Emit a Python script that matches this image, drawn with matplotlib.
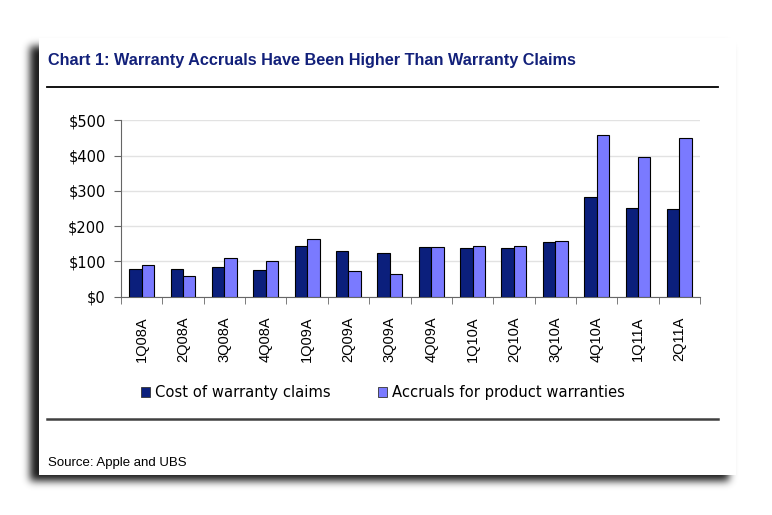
import numpy as np
import matplotlib
matplotlib.use("Agg")
import matplotlib.pyplot as plt
from matplotlib.patches import Rectangle

# quarterly values, $ millions
quarters = ["1Q08A", "2Q08A", "3Q08A", "4Q08A", "1Q09A", "2Q09A", "3Q09A",
            "4Q09A", "1Q10A", "2Q10A", "3Q10A", "4Q10A", "1Q11A", "2Q11A"]
claims = [79, 79, 83, 77, 143, 129, 125, 140, 137, 137, 155, 284, 252, 250]
accruals = [89, 60, 109, 100, 164, 73, 64, 140, 143, 143, 158, 457, 397, 449]
yticks = [0, 100, 200, 300, 400, 500]

W, H = 772, 515
fig = plt.figure(figsize=(W / 100, H / 100), dpi=100)
fig.patch.set_facecolor("white")

# soft drop shadow behind the card
shadow = np.zeros((H, W))
shadow[46:481, 30:729] = 1.0
k = np.exp(-0.5 * (np.arange(-12, 13) / 4.0) ** 2)
k /= k.sum()
shadow = np.apply_along_axis(lambda r: np.convolve(r, k, mode="same"), 1, shadow)
shadow = np.apply_along_axis(lambda c: np.convolve(c, k, mode="same"), 0, shadow)
rgba = np.zeros((H, W, 4))
rgba[..., 3] = shadow * 0.9
bg = fig.add_axes([0, 0, 1, 1])
bg.set_xlim(0, W)
bg.set_ylim(H, 0)
bg.axis("off")
bg.imshow(rgba, extent=(0, W, H, 0), zorder=0)
bg.add_patch(Rectangle((39, 38), 697, 437, facecolor="white", edgecolor="none", zorder=1))

# title, rules and source
navy = "#12207a"
bg.text(48, 61, "Chart 1: Warranty Accruals Have Been Higher Than Warranty Claims",
        fontsize=11.7, fontweight="bold", color=navy, va="center", ha="left",
        family="Liberation Sans", zorder=2)
bg.plot([47, 718], [87, 87], color="black", lw=1.3, zorder=2)
bg.plot([47, 718], [419, 419], color="#404040", lw=1.8, zorder=2)
bg.text(48, 463, "Source: Apple and UBS", fontsize=9.5, color="black", va="center",
        ha="left", family="Liberation Sans", zorder=2)

# legend
dark = "#0b1f7c"
light = "#7a7aff"
for x0, col, lab in [(141, dark, "Cost of warranty claims"),
                     (378, light, "Accruals for product warranties")]:
    bg.add_patch(Rectangle((x0, 387), 9, 10, facecolor=col, edgecolor="#333333",
                           lw=0.6, zorder=2))
    bg.text(x0 + 14, 392, lab, fontsize=10.6, va="center", ha="left",
            family="DejaVu Sans", zorder=2)

# bar chart
ax = fig.add_axes([121 / W, 1 - 296.7 / H, (700 - 121) / W, (296.7 - 120.3) / H])
ax.set_facecolor("none")
x = np.arange(len(quarters))
w = 0.3
ax.bar(x - w / 2, claims, w, color=dark, edgecolor="black", lw=0.8, zorder=3)
ax.bar(x + w / 2, accruals, w, color=light, edgecolor="black", lw=0.8, zorder=3)

ax.set_xlim(-0.5, len(quarters) - 0.5)
ax.set_ylim(0, 500)
ax.set_yticks(yticks)
ax.set_yticklabels(["$%d" % v for v in yticks], fontsize=10.5, family="DejaVu Sans")
ax.yaxis.grid(True, color="#e2e2e2", lw=1)
ax.set_axisbelow(True)

ax.set_xticks(x)
ax.set_xticklabels(quarters, rotation=90, fontsize=10.5, family="Liberation Sans")
ax.set_xticks(np.arange(-0.5, len(quarters), 1), minor=True)
ax.tick_params(axis="x", which="major", length=0, pad=14)
ax.tick_params(axis="x", which="minor", length=5, direction="out", color="#666666")
ax.tick_params(axis="y", length=5, direction="out", color="#666666", pad=6)
for s in ["top", "right"]:
    ax.spines[s].set_visible(False)
for s in ["left", "bottom"]:
    ax.spines[s].set_color("#666666")

fig.savefig("out.png", dpi=100)
